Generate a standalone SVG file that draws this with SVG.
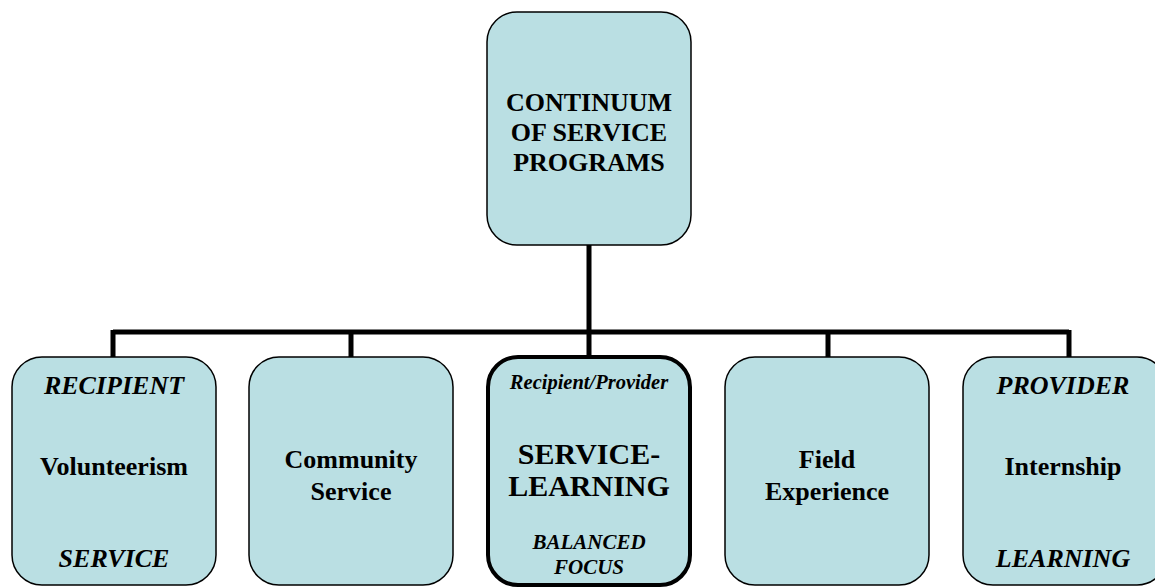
<svg xmlns="http://www.w3.org/2000/svg" width="1155" height="588" viewBox="0 0 1155 588">
<style>
.box{fill:#badfe3;stroke:#000;stroke-width:1.5}
.thick{stroke-width:4}
text{font-family:'Liberation Serif','Times New Roman','DejaVu Serif',serif;font-weight:bold;text-anchor:middle;fill:#000;font-size:26px}
.i{font-style:italic}
.conn{fill:none;stroke:#000;stroke-width:5}
</style>
<g id="connectors">
<path class="conn" d="M589 245 V332 M113 332 H1069 M113 330 V357 M351 330 V357 M589 330 V357 M828 330 V357 M1069 330 V357"/>
</g>
<g id="root">
<rect class="box" x="487" y="12" width="204" height="233" rx="30"/>
<text x="589" y="111">CONTINUUM</text>
<text x="589" y="141">OF SERVICE</text>
<text x="589" y="171">PROGRAMS</text>
</g>
<g id="volunteerism">
<rect class="box" x="12" y="357" width="204" height="228" rx="30"/>
<text class="i" x="114" y="394">RECIPIENT</text>
<text x="114" y="475">Volunteerism</text>
<text class="i" x="114" y="567">SERVICE</text>
</g>
<g id="community-service">
<rect class="box" x="249" y="357" width="204" height="228" rx="30"/>
<text x="351" y="468">Community</text>
<text x="351" y="500">Service</text>
</g>
<g id="service-learning">
<rect class="box thick" x="488" y="357" width="202" height="228" rx="30"/>
<text class="i" x="589" y="389" style="font-size:20.5px">Recipient/Provider</text>
<text x="589" y="464" style="font-size:30px">SERVICE-</text>
<text x="589" y="496" style="font-size:30px">LEARNING</text>
<text class="i" x="589" y="549" style="font-size:21px">BALANCED</text>
<text class="i" x="589" y="574" style="font-size:21px">FOCUS</text>
</g>
<g id="field-experience">
<rect class="box" x="725" y="357" width="204" height="228" rx="30"/>
<text x="827" y="468">Field</text>
<text x="827" y="500">Experience</text>
</g>
<g id="internship">
<rect class="box" x="963" y="357" width="204" height="228" rx="30"/>
<text class="i" x="1063" y="394">PROVIDER</text>
<text x="1063" y="475">Internship</text>
<text class="i" x="1063" y="567">LEARNING</text>
</g>
</svg>
